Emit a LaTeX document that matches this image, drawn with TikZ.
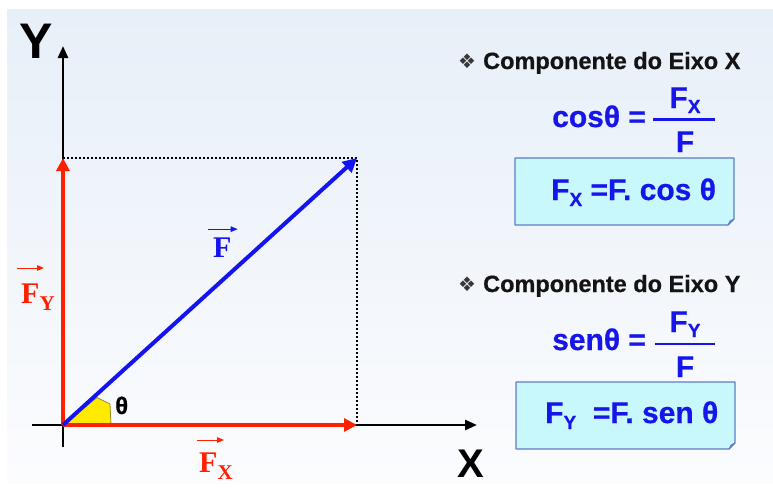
\documentclass[tikz,border=0pt]{standalone}
\usepackage{fontspec}
\usepackage{graphicx}
\setmainfont{Liberation Sans}
\newfontfamily\serifb{Liberation Serif}
\newfontfamily\symf{DejaVu Sans}
\newfontfamily\heavysans[FakeBold=0.6]{Liberation Sans}
\usetikzlibrary{arrows.meta}
\definecolor{vred}{RGB}{255,32,0}
\definecolor{vblue}{RGB}{20,20,240}
\definecolor{fblue}{RGB}{22,22,235}
\definecolor{boxfill}{RGB}{200,247,252}
\definecolor{boxline}{RGB}{95,125,200}
\definecolor{foldfill}{RGB}{150,190,235}
\definecolor{bgtop}{RGB}{231,239,248}
\definecolor{bgbot}{RGB}{251,252,254}
\definecolor{angfill}{RGB}{255,234,0}
\definecolor{angline}{RGB}{150,140,40}
\definecolor{titlecol}{RGB}{20,20,20}
\begin{document}
\begin{tikzpicture}[x=1pt,y=-1pt,
  axis/.style={line width=2.6pt, draw=black, -{Triangle[length=12pt,width=10pt]}},
  comp/.style={line width=3.8pt, draw=vred, -{Triangle[length=13pt,width=13pt]}},
  res/.style={line width=4pt, draw=vblue, -{Triangle[length=14pt,width=14pt]}},
  guide/.style={line width=2pt, dash pattern=on 2pt off 2pt},
  vlabel/.style={font=\serifb\bfseries\fontsize{30}{30}\selectfont, inner sep=0pt, anchor=base west},
  vecarrow/.style={line width=1pt, -{Triangle[length=7pt,width=5.5pt]}},
  axlabel/.style={font=\bfseries, inner sep=0pt, anchor=base west},
  title/.style={font=\heavysans\bfseries\fontsize{23.5}{23.5}\selectfont, text=titlecol, inner sep=0pt, anchor=base west},
  bullet/.style={font=\symf\fontsize{20}{20}\selectfont, text=titlecol!85, inner sep=0pt, anchor=base west},
  eqtext/.style={font=\heavysans\bfseries\fontsize{30}{30}\selectfont, text=fblue, inner sep=0pt},
  fracline/.style={draw=fblue, line width=2.4pt},
  notebox/.style={fill=boxfill, draw=boxline, line width=1.1pt, line join=round},
  fold/.style={fill=foldfill, draw=boxline, line width=0.8pt, line join=round}
]
\useasboundingbox (0,0) rectangle (773,490);
\fill[white] (0,0) rectangle (773,490);
\shade[top color=bgtop, bottom color=bgbot] (7,9) rectangle (773,483);

% key points
\coordinate (O) at (63,425);
\coordinate (ybot) at (63,447);
\coordinate (ytip) at (63,46);
\coordinate (xleft) at (32,425);
\coordinate (xtip) at (477,425);
\coordinate (Fy) at (63,158);
\coordinate (Fx) at (357,425);
\coordinate (Ft) at (357,158);

% dotted guides
\draw[guide] (Fy) -- (Ft) -- (Fx);

% axes
\draw[axis] (ybot) -- (ytip);
\draw[axis] (xleft) -- (xtip);

% angle marker
\coordinate (a1) at (97,397.5);
\coordinate (a2) at (110,404);
\coordinate (a3) at (111,425);
\filldraw[fill=angfill, draw=angline, line width=0.8pt] (O) -- (a1) -- (a2) -- (a3) -- cycle;

% components and resultant
\draw[comp] (O) -- (Fy);
\draw[comp] (O) -- (Fx);
\draw[res] (O) -- (Ft);

% axis labels
\node[axlabel, font=\bfseries\fontsize{50}{50}\selectfont] (ylab) at (19,58) {Y};
\node[axlabel, font=\bfseries\fontsize{40}{40}\selectfont] (xlab) at (457,477) {X};
\node[axlabel, font=\heavysans\bfseries\fontsize{24}{24}\selectfont] (th) at (115,414) {θ};

% vector labels
\node[vlabel, text=vblue] (lF) at (213,257) {F};
\draw[vecarrow, draw=vblue] ([shift={(-5,-8)}]lF.north west) -- ([shift={(6,-8)}]lF.north east);
\node[vlabel, text=vred] (lFy) at (21,303) {F\raisebox{-7pt}{\fontsize{21}{21}\selectfont Y}};
\node[vlabel, text=vred] (lFx) at (199,472) {F\raisebox{-7pt}{\fontsize{21}{21}\selectfont X}};
\coordinate (fya) at (17,268);
\coordinate (fyb) at (44,268);
\coordinate (fxa) at (197,440);
\coordinate (fxb) at (224,440);
\draw[vecarrow, draw=vred] (fya) -- (fyb);
\draw[vecarrow, draw=vred] (fxa) -- (fxb);

% ---- right panel: X component
\node[bullet] (b1) at (458,68) {❖};
\node[title] (t1) at (483,69) {Componente do Eixo X};
\node[eqtext, anchor=base west] (c1) at (552,127) {cosθ =};
\coordinate (l1a) at (653,119.5);
\coordinate (l1b) at (715,119.5);
\draw[fracline] (l1a) -- (l1b);
\node[eqtext, anchor=base] (n1) at (685,108) {F\raisebox{-5pt}{\fontsize{19}{19}\selectfont X}};
\node[eqtext, anchor=base] (d1) at (685,152) {F};
\coordinate (p1) at (515,158);
\coordinate (p2) at (734,158);
\coordinate (p3) at (734,219);
\coordinate (p4) at (728,225);
\coordinate (p5) at (515,225);
\coordinate (p6) at (730,221);
\draw[notebox] (p1) -- (p2) -- (p3) -- (p4) -- (p5) -- cycle;
\draw[fold] (p3) -- (p4) -- (p6) -- cycle;
\node[eqtext, anchor=base west] (e1) at (551,200) {F\raisebox{-6pt}{\fontsize{19}{19}\selectfont X} =F. cos θ};

% ---- right panel: Y component
\node[bullet] (b2) at (458,291) {❖};
\node[title] (t2) at (483,292) {Componente do Eixo Y};
\node[eqtext, anchor=base west] (c2) at (552,350) {senθ =};
\coordinate (l2a) at (655,344);
\coordinate (l2b) at (715,344);
\draw[fracline] (l2a) -- (l2b);
\node[eqtext, anchor=base] (n2) at (685,332) {F\raisebox{-5pt}{\fontsize{19}{19}\selectfont Y}};
\node[eqtext, anchor=base] (d2) at (685,377) {F};
\coordinate (q1) at (516,382);
\coordinate (q2) at (735,382);
\coordinate (q3) at (735,443);
\coordinate (q4) at (729,449);
\coordinate (q5) at (516,449);
\coordinate (q6) at (731,445);
\draw[notebox] (q1) -- (q2) -- (q3) -- (q4) -- (q5) -- cycle;
\draw[fold] (q3) -- (q4) -- (q6) -- cycle;
\node[eqtext, anchor=base west] (e2) at (545,423) {F\raisebox{-6pt}{\fontsize{19}{19}\selectfont Y}\ \ =F. sen θ};
\end{tikzpicture}
\end{document}
